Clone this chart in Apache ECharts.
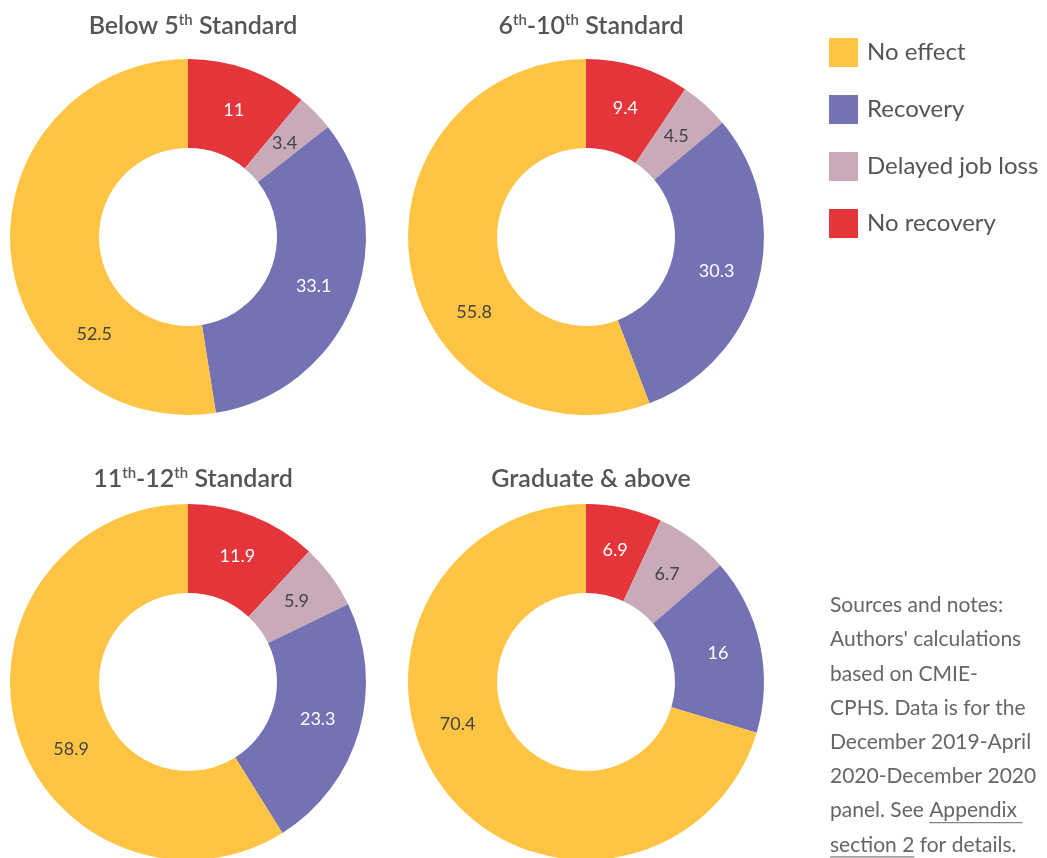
<!DOCTYPE html>
<html><head><meta charset="utf-8">
<script src="https://cdn.jsdelivr.net/npm/echarts@6/dist/echarts.min.js"></script>
<style>html,body{margin:0;padding:0;background:#fff}#c{width:1047px;height:858px}</style>
</head><body><div id="c"></div>
<script>
const categories = ['No recovery', 'Delayed job loss', 'Recovery', 'No effect'];
const legendOrder = ['No effect', 'Recovery', 'Delayed job loss', 'No recovery'];
const colors = ['#E4363A', '#C8AAB9', '#7472B2', '#FFC443'];
const labelColors = ['#ffffff', '#444444', '#ffffff', '#444444'];
const panelTitles = ['Below 5{s|th} Standard', '6{s|th}-10{s|th} Standard', '11{s|th}-12{s|th} Standard', 'Graduate & above'];
const below5 = [11, 3.4, 33.1, 52.5];
const std6to10 = [9.4, 4.5, 30.3, 55.8];
const std11to12 = [11.9, 5.9, 23.3, 58.9];
const graduate = [6.9, 6.7, 16, 70.4];
const notesLines = ['Sources and notes:', "Authors' calculations", 'based on CMIE-', 'CPHS. Data is for the', 'December 2019-April', '2020-December 2020'];

const panels = [below5, std6to10, std11to12, graduate];

// layout / styling (not data)
const centers = [[188, 237], [586, 237], [188, 682], [586, 682]];
const titleY = [8, 8, 461, 461];
const R_IN = 89, R_OUT = 178, R_LABEL = 135;
// label angle (deg, clockwise from 12 o'clock) for the large "No effect" slice, as placed in the original
const bigLabelAngle = [224, 236, 240, 252];

const FONT = 'Lato';
const chart = echarts.init(document.getElementById('c'));

function midAngle(vals, k) {
  const tot = vals.reduce((a, b) => a + b, 0);
  let acc = 0;
  for (let j = 0; j < k; j++) acc += vals[j];
  return (acc + vals[k] / 2) / tot * 360;
}

const series = panels.map((vals, i) => ({
  type: 'pie',
  center: centers[i],
  radius: [R_IN, R_OUT],
  startAngle: 90,
  clockwise: true,
  avoidLabelOverlap: false,
  silent: true,
  label: {
    show: true, position: 'inside', fontFamily: FONT, fontSize: 18,
    formatter: p => String(p.value)
  },
  labelLine: { show: false },
  labelLayout: function (p) {
    const k = p.dataIndex;
    const ang = (k === 3 ? bigLabelAngle[i] : midAngle(vals, k)) * Math.PI / 180;
    return {
      x: centers[i][0] + R_LABEL * Math.sin(ang),
      y: centers[i][1] - R_LABEL * Math.cos(ang),
      align: 'center', verticalAlign: 'middle'
    };
  },
  itemStyle: { borderWidth: 0 },
  data: vals.map((v, k) => ({
    name: categories[k], value: v,
    itemStyle: { color: colors[k] },
    label: { color: labelColors[k] }
  }))
}));

const titles = panelTitles.map((t, i) => ({
  text: t,
  left: centers[i][0], top: titleY[i], textAlign: 'center',
  textStyle: {
    fontFamily: FONT, fontSize: 25, fontWeight: 600, color: '#555',
    rich: { s: { fontFamily: FONT, fontSize: 15, fontWeight: 600, color: '#555', verticalAlign: 'top', padding: [0, 0, 9, 0] } }
  }
}));

// measure text widths for underlines
const NF = 21;
const ctx = document.createElement('canvas').getContext('2d');
ctx.font = NF + 'px ' + FONT;
const wPanel = ctx.measureText('panel. See ').width;
const wApp = ctx.measureText('Appendix ').width;
const wSec = ctx.measureText('section 2').width;

const nx = 830, ny0 = 606, lh = 34.2;
const graphics = notesLines.map((t, i) => ({
  type: 'text', left: nx, top: ny0 + i * lh - 11, silent: true,
  style: { text: t, fontFamily: FONT, fontSize: NF, fill: '#666' }
}));
const y7 = ny0 + 6 * lh, y8 = ny0 + 7 * lh;
graphics.push({ type: 'text', left: nx, top: y7 - 11, silent: true,
  style: { text: 'panel. See Appendix ', fontFamily: FONT, fontSize: NF, fill: '#666' } });
graphics.push({ type: 'text', left: nx, top: y8 - 11, silent: true,
  style: { text: 'section 2 for details.', fontFamily: FONT, fontSize: NF, fill: '#666' } });
graphics.push({ type: 'line', silent: true, shape: { x1: nx + wPanel, y1: y7 + 11.5, x2: nx + wPanel + wApp, y2: y7 + 11.5 }, style: { stroke: '#666', lineWidth: 1 } });
graphics.push({ type: 'line', silent: true, shape: { x1: nx, y1: y8 + 11.5, x2: nx + wSec, y2: y8 + 11.5 }, style: { stroke: '#666', lineWidth: 1 } });

chart.setOption({
  animation: false,
  title: titles,
  legend: {
    data: legendOrder, orient: 'vertical', left: 829, top: 38, padding: 0,
    icon: 'rect', itemWidth: 29, itemHeight: 29, itemGap: 28,
    selectedMode: false,
    textStyle: { fontFamily: FONT, fontSize: 24, color: '#555', padding: [0, 0, 0, 4] }
  },
  series: series,
  graphic: graphics
});
</script></body></html>
